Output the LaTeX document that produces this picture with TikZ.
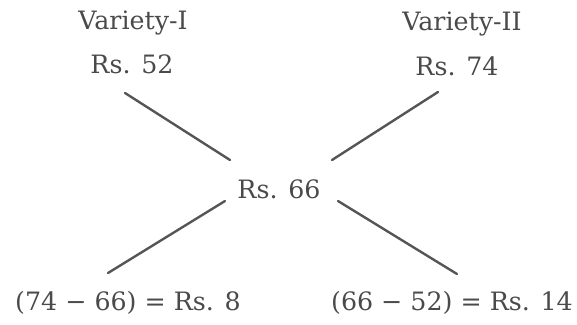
\documentclass[tikz,border=0pt]{standalone}
\usepackage{fontspec}
\setmainfont{DejaVu Serif}
\usepackage{xcolor}
\usetikzlibrary{positioning}
\definecolor{inkgray}{HTML}{4A4A4A}
\definecolor{linegray}{HTML}{555555}

\begin{document}
\begin{tikzpicture}[
    label/.style={text=inkgray, font=\fontsize{18}{21}\selectfont, inner sep=2pt},
    link/.style={draw=linegray, line width=1.7pt, line cap=round}
]
    \useasboundingbox (-6.975,-3.375) rectangle (7.45,4.725);
    \node [label] (var1) at (-3.65,4.15) {Variety-I};
    \node [label] (price1) at (-3.675,3.125) {Rs. 52};
    \node [label] (var2) at (4.575,4.125) {Variety-II};
    \node [label] (price2) at (4.45,3.075) {Rs. 74};
    \node [label] (mean) at (0,0) {Rs. 66};
    \node [label] (diff1) at (-3.775,-2.85) {(74 − 66) = Rs. 8};
    \node [label] (diff2) at (4.325,-2.85) {(66 − 52) = Rs. 14};
    % line ends around the mean price
    \coordinate (tl) at (-3.85,2.4);
    \coordinate (tr) at (3.975,2.425);
    \coordinate (bl) at (-4.275,-2.1);
    \coordinate (br) at (4.45,-2.125);
    \coordinate (mtl) at (-1.225,0.725);
    \coordinate (mtr) at (1.325,0.725);
    \coordinate (mbl) at (-1.35,-0.3);
    \coordinate (mbr) at (1.475,-0.3);
    \draw [link] (tl) -- (mtl);
    \draw [link] (tr) -- (mtr);
    \draw [link] (mbl) -- (bl);
    \draw [link] (mbr) -- (br);
\end{tikzpicture}
\end{document}
